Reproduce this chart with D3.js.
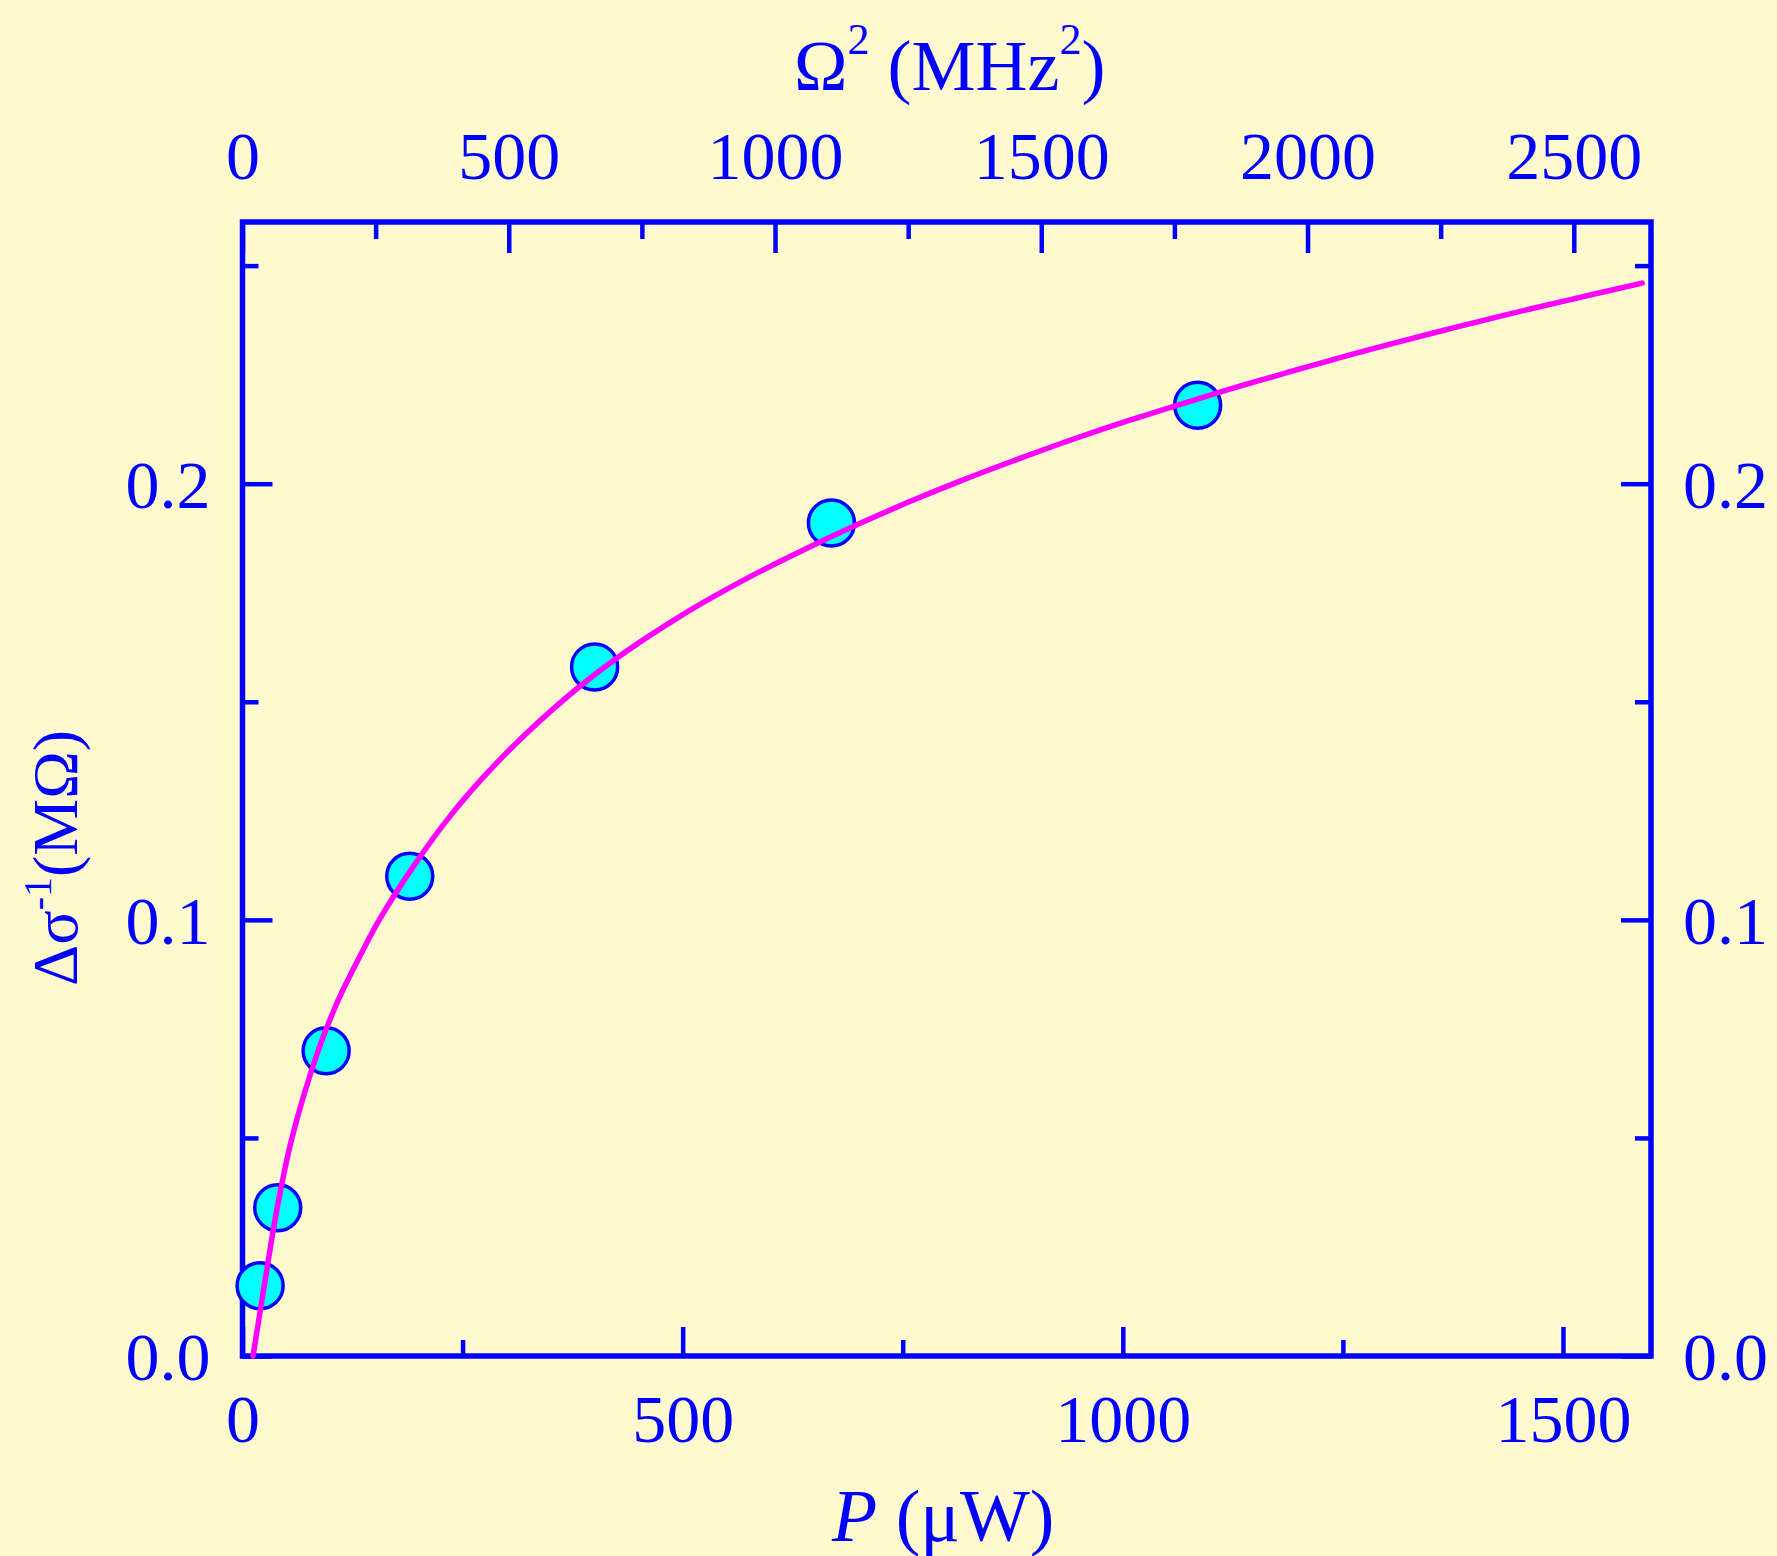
<!DOCTYPE html>
<html>
<head>
<meta charset="utf-8">
<script src="https://cdn.jsdelivr.net/npm/d3@7"></script>
<style>
  html, body { margin: 0; padding: 0; background: #fff9d0; }
  svg { display: block; }
  text { font-family: "Liberation Serif", "Times New Roman", Times, serif; fill: #0000ff; }
</style>
</head>
<body>
<svg id="chart" width="1777" height="1556"></svg>
<script>
// ---- data ----
const pointsP = [20, 40, 95, 190, 400, 669, 1085];            // P (µW)
const pointsY = [0.0161, 0.034, 0.070, 0.110, 0.158, 0.191, 0.218]; // Δσ^-1 (MΩ)

const curveP = [12, 25, 39, 56, 86, 109, 137, 156, 194, 232, 270, 308, 346, 383, 421, 459, 497, 535, 573,
                633, 696, 758, 820, 883, 945, 1007, 1070, 1132, 1194, 1256, 1319, 1381, 1443, 1506, 1590];
const curveY = [0.000, 0.0165, 0.0335, 0.0498, 0.0700, 0.0817, 0.0931, 0.1002, 0.1122, 0.1228, 0.1319, 0.1399,
                0.1471, 0.1535, 0.1594, 0.1647, 0.1696, 0.1741, 0.1783, 0.1844, 0.1904, 0.1959, 0.2010,
                0.2058, 0.2103, 0.2145, 0.2185, 0.2223, 0.2259, 0.2294, 0.2328, 0.2360, 0.2391, 0.2421, 0.2460];

const bottomTicks = [0, 500, 1000, 1500];
const bottomMinor = [250, 750, 1250];
const topTicks = [0, 500, 1000, 1500, 2000, 2500];
const topMinor = [250, 750, 1250, 1750, 2250];
const yTicks = [0.0, 0.1, 0.2];
const yMinor = [0.05, 0.15, 0.25];

// ---- layout ----
const L = 242.5, R = 1651, T = 222, B = 1356;
const blue = "#0000ff";
const svg = d3.select("#chart");

const x = d3.scaleLinear().domain([0, 1600]).range([L, R]);
const xTop = d3.scaleLinear().domain([0, 2645]).range([L, R]);
const y = d3.scaleLinear().domain([0, 0.26]).range([B, T]);

svg.append("rect").attr("width", 1777).attr("height", 1556).attr("fill", "#fff9d0");

const tickFont = 68;
function style(g) {
  g.select(".domain").remove();
  g.selectAll("line").attr("stroke", blue).attr("stroke-width", 4.5);
  g.selectAll("text").attr("fill", blue).attr("font-size", tickFont);
}

// bottom
svg.append("g").attr("transform", `translate(0,${B})`)
  .call(d3.axisBottom(x).tickValues(bottomTicks).tickSize(-29).tickFormat(d3.format("d")))
  .call(style)
  .call(g => g.selectAll("text").attr("y", 86).attr("dy", null));
svg.append("g").attr("transform", `translate(0,${B})`)
  .call(d3.axisBottom(x).tickValues(bottomMinor).tickSize(-16).tickFormat(""))
  .call(style);

// top
svg.append("g").attr("transform", `translate(0,${T})`)
  .call(d3.axisTop(xTop).tickValues(topTicks).tickSize(-31).tickFormat(d3.format("d")))
  .call(style)
  .call(g => g.selectAll("text").attr("y", -43).attr("dy", null));
svg.append("g").attr("transform", `translate(0,${T})`)
  .call(d3.axisTop(xTop).tickValues(topMinor).tickSize(-17).tickFormat(""))
  .call(style);

// left
svg.append("g").attr("transform", `translate(${L},0)`)
  .call(d3.axisLeft(y).tickValues(yTicks).tickSize(-30).tickFormat(d3.format(".1f")))
  .call(style)
  .call(g => g.selectAll("text").attr("x", -32).attr("dy", "0.35em"));
svg.append("g").attr("transform", `translate(${L},0)`)
  .call(d3.axisLeft(y).tickValues(yMinor).tickSize(-16).tickFormat(""))
  .call(style);

// right
svg.append("g").attr("transform", `translate(${R},0)`)
  .call(d3.axisRight(y).tickValues(yTicks).tickSize(-30).tickFormat(d3.format(".1f")))
  .call(style)
  .call(g => g.selectAll("text").attr("x", 32).attr("dy", "0.35em"));
svg.append("g").attr("transform", `translate(${R},0)`)
  .call(d3.axisRight(y).tickValues(yMinor).tickSize(-16).tickFormat(""))
  .call(style);

// frame
svg.append("rect").attr("x", L).attr("y", T).attr("width", R - L).attr("height", B - T)
  .attr("fill", "none").attr("stroke", blue).attr("stroke-width", 5.5);

// markers
svg.append("g").selectAll("circle").data(pointsP.map((p, i) => [p, pointsY[i]])).join("circle")
  .attr("cx", d => x(d[0])).attr("cy", d => y(d[1])).attr("r", 23)
  .attr("fill", "#00ffff").attr("stroke", blue).attr("stroke-width", 3.5);

// fit curve (drawn over markers)
const line = d3.line().x(d => x(d[0])).y(d => y(d[1])).curve(d3.curveCatmullRom.alpha(0.5));
svg.append("path").datum(curveP.map((p, i) => [p, curveY[i]]))
  .attr("d", line).attr("fill", "none").attr("stroke", "#ff00ff").attr("stroke-width", 5.5)
  .attr("stroke-linecap", "round");

// titles
const tTop = svg.append("text").attr("x", 794).attr("y", 90).attr("font-size", 72);
tTop.append("tspan").text("Ω");
tTop.append("tspan").attr("font-size", 44).attr("dy", -36).text("2");
tTop.append("tspan").attr("dy", 36).text(" (MHz");
tTop.append("tspan").attr("font-size", 44).attr("dy", -36).text("2");
tTop.append("tspan").attr("dy", 36).text(")");

const tBot = svg.append("text").attr("x", 832).attr("y", 1541).attr("font-size", 74);
tBot.append("tspan").attr("font-style", "italic").text("P");
tBot.append("tspan").text(" (μW)");

const tLeft = svg.append("text").attr("transform", "translate(77,986) rotate(-90)").attr("font-size", 64);
tLeft.append("tspan").text("Δσ");
tLeft.append("tspan").attr("font-size", 40).attr("dy", -26).text("-1");
tLeft.append("tspan").attr("dy", 26).text("(MΩ)");
</script>
</body>
</html>
